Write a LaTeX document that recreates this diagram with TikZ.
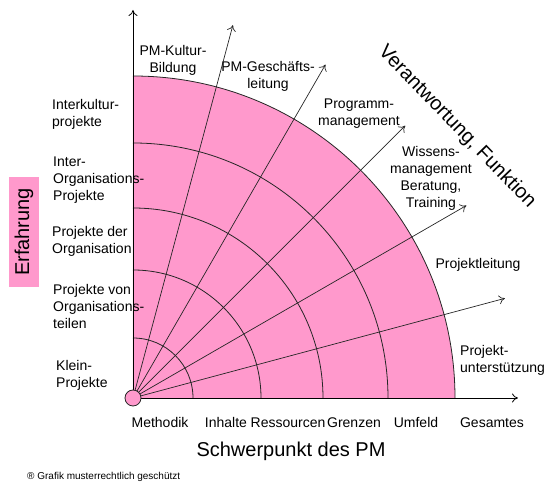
\documentclass[tikz,border=0pt]{standalone}
\usepackage{fontspec}
\setmainfont{Liberation Sans}
\usetikzlibrary{arrows.meta}
\definecolor{pmpink}{RGB}{255,153,204}
\begin{document}
\begin{tikzpicture}[x=1pt,y=1pt,
grid/.style ={draw=black!85, line width=0.8pt},
ray/.style ={draw=black!85, line width=0.7pt,
  -{To[length=6pt,width=9pt]}
},
axis/.style ={draw=black, line width=0.8pt,
  -{To[length=6pt,width=9pt]}
},
lbl/.style ={font=\fontsize{14}{17}\selectfont, inner sep=0pt,
  align=center
},
big/.style ={font=\fontsize{20}{23}\selectfont, inner sep=0pt}]
\useasboundingbox (-133,-97) rectangle (417,398);
\coordinate (o) at (0,0);
% Flaeche und Boegen
\fill[pmpink] (o) -- (322,0) arc[start angle=0, end angle=90, radius=322] -- cycle;
\draw[grid] (60,0) arc[start angle=0, end angle=90, radius=60];
\draw[grid] (128,0) arc[start angle=0, end angle=90, radius=128];
\draw[grid] (190,0) arc[start angle=0, end angle=90, radius=190];
\draw[grid] (255,0) arc[start angle=0, end angle=90, radius=255];
\draw[grid] (322,0) arc[start angle=0, end angle=90, radius=322];
% Strahlen
\coordinate (r1) at (15:385);
\coordinate (r2) at (30:385);
\coordinate (r3) at (45:385);
\coordinate (r4) at (60:385);
\coordinate (r5) at (75:386);
\draw[ray] (o) -- (r1);
\draw[ray] (o) -- (r2);
\draw[ray] (o) -- (r3);
\draw[ray] (o) -- (r4);
\draw[ray] (o) -- (r5);
% Achsen
\coordinate (xe) at (385,0);
\coordinate (ye) at (0,388);
\draw[axis] (o) -- (xe);
\draw[axis] (o) -- (ye);
\node (dot) at (o) [circle, draw=black!85, line width=0.8pt, fill=pmpink,
  minimum size=16pt, inner sep=0pt] {};
% Erfahrung
\node (erf) at (-109,166) [big, rotate=90, fill=pmpink,
  minimum width=110pt, minimum height=30pt] {Erfahrung};
\node (e1) at (-81,283.5) [lbl, anchor=west, align=left] {Interkultur-\\projekte};
\node (e2) at (-80,218) [lbl, anchor=west, align=left] {Inter-\\Organisations-\\Projekte};
\node (e3) at (-81,156.5) [lbl, anchor=west, align=left] {Projekte der\\Organisation};
\node (e4) at (-80,91) [lbl, anchor=west, align=left] {Projekte von\\Organisations-\\teilen};
\node (e5) at (-77,23) [lbl, anchor=west, align=left] {Klein-\\Projekte};
% Verantwortung
\node (v1) at (40,337.5) [lbl] {PM-Kultur-\\Bildung};
\node (v2) at (135,321.5) [lbl] {PM-Gesch\"afts-\\leitung};
\node (v3) at (226,284.5) [lbl] {Programm-\\management};
\node (v4) at (298,219.5) [lbl] {Wissens-\\management\\Beratung,\\Training};
\node (v5) at (345,133) [lbl] {Projektleitung};
\node (v6) at (327,37.5) [lbl, anchor=west, align=left] {Projekt-\\unterst\"utzung};
\node (vt) at (324,271) [big, rotate=-46] {Verantwortung, Funktion};
% Schwerpunkt
\node (s1) at (27,-25) [lbl] {Methodik};
\node (s2) at (93,-25) [lbl] {Inhalte};
\node (s3) at (155,-25) [lbl] {Ressourcen};
\node (s4) at (221,-25) [lbl] {Grenzen};
\node (s5) at (283,-25) [lbl] {Umfeld};
\node (s6) at (359,-25) [lbl] {Gesamtes};
\node (st) at (158,-53) [big] {Schwerpunkt des PM};
\node (ft) at (-106,-79) [anchor=west, inner sep=0pt,
  font=\fontsize{10}{12}\selectfont] {\textregistered{} Grafik musterrechtlich gesch\"utzt};
\end{tikzpicture}
\end{document}
